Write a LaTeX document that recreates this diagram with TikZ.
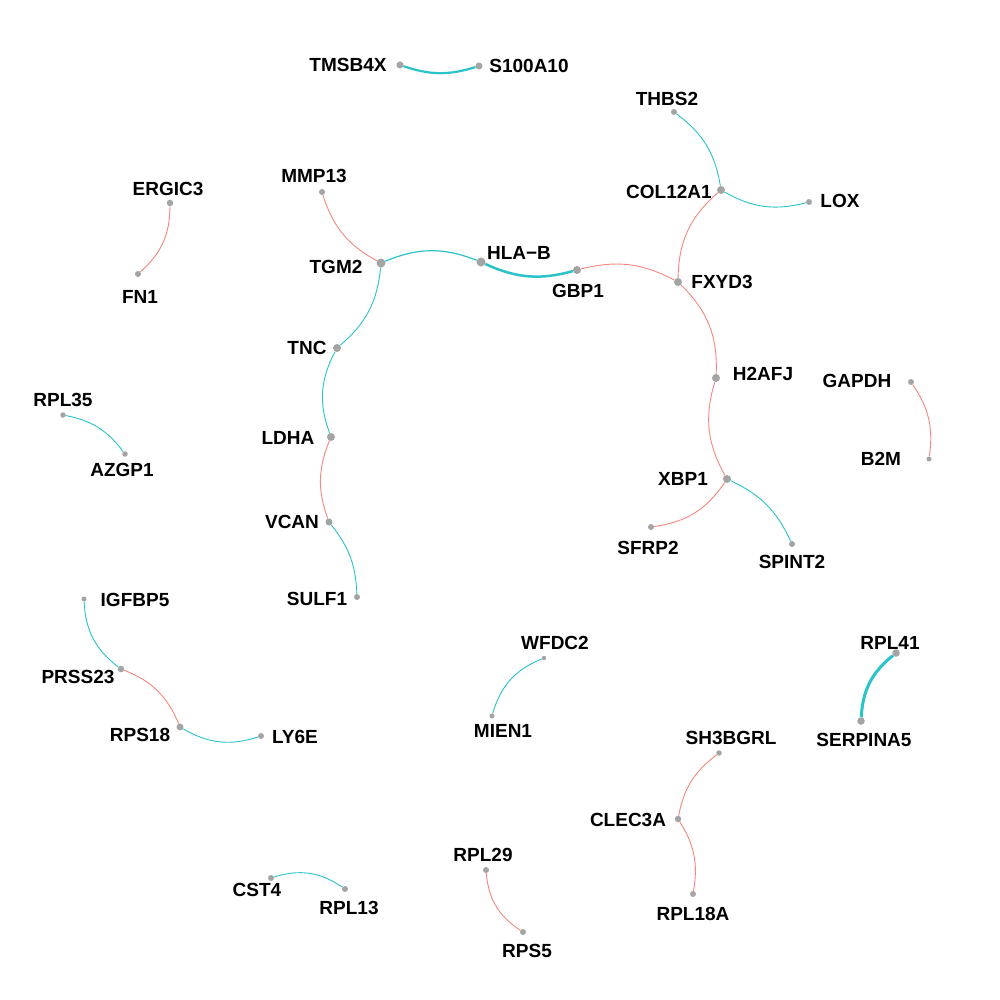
\documentclass[tikz,border=0pt]{standalone}
\usepackage{fontspec}
\setmainfont{Liberation Sans}
\usepackage{tikz}
\usepackage{xcolor}
\definecolor{netcyan}{HTML}{2BC3CA}
\definecolor{netred}{HTML}{F7867E}
\definecolor{netgray}{HTML}{A4A4A4}

\begin{document}
\begin{tikzpicture}[x=1pt, y=-1pt,
  gene/.style={font=\fontsize{19}{19}\selectfont\bfseries, inner sep=0pt, text=black},
  dot/.style={circle, fill=netgray, inner sep=0pt, minimum size=#1},
  dot/.default=6pt,
  posedge/.style={draw=netcyan, line width=0.9pt},
  negedge/.style={draw=netred, line width=0.9pt}
]
\fill[white] (0,0) rectangle (1000,1000);
\useasboundingbox (0,0) rectangle (1000,1000);

% gene dots
\node[dot=7pt] (tmsb4x) at (400,65) {};
\node[dot=7pt] (s100a10) at (479,66) {};
\node[dot] (thbs2) at (674,112) {};
\node[dot=8pt] (col12a1) at (721,190) {};
\node[dot] (lox) at (809,202) {};
\node[dot=8pt] (fxyd3) at (678,282) {};
\node[dot=8pt] (gbp1) at (577,270) {};
\node[dot=9pt] (hlab) at (481,262) {};
\node[dot=9pt] (tgm2) at (381,263) {};
\node[dot] (mmp13) at (322,192) {};
\node[dot=8pt] (tnc) at (337,348) {};
\node[dot=8pt] (ldha) at (331,437) {};
\node[dot=7pt] (vcan) at (329,522) {};
\node[dot] (sulf1) at (357,597) {};
\node[dot=8pt] (h2afj) at (716,378) {};
\node[dot=8pt] (xbp1) at (727,479) {};
\node[dot] (sfrp2) at (651,527) {};
\node[dot] (spint2) at (792,544) {};
\node[dot] (gapdh) at (911,382) {};
\node[dot=5pt] (b2m) at (929,459) {};
\node[dot=6.5pt] (ergic3) at (170,203) {};
\node[dot] (fn1) at (138,274) {};
\node[dot=5.5pt] (rpl35) at (63,415) {};
\node[dot=5.5pt] (azgp1) at (125,454) {};
\node[dot=5pt] (igfbp5) at (84,599) {};
\node[dot=6.5pt] (prss23) at (121,669) {};
\node[dot=7pt] (rps18) at (180,727) {};
\node[dot] (ly6e) at (261,736) {};
\node[dot=4.5pt] (wfdc2) at (544,658) {};
\node[dot=5pt] (mien1) at (492,716) {};
\node[dot=7.5pt] (rpl41) at (896,653) {};
\node[dot=7.5pt] (serpina5) at (861,721) {};
\node[dot=5.5pt] (sh3bgrl) at (719,753) {};
\node[dot=6.5pt] (clec3a) at (678,819) {};
\node[dot] (rpl18a) at (693,894) {};
\node[dot] (cst4) at (271,878) {};
\node[dot] (rpl13) at (345,889) {};
\node[dot] (rpl29) at (486,870) {};
\node[dot] (rps5) at (523,932) {};

% gene names
\node[gene] (tmsb4x-l) at (348,65) {TMSB4X};
\node[gene] (s100a10-l) at (529,66) {S100A10};
\node[gene] (thbs2-l) at (667,99) {THBS2};
\node[gene] (col12a1-l) at (669,192) {COL12A1};
\node[gene] (lox-l) at (840,201) {LOX};
\node[gene] (fxyd3-l) at (722,282) {FXYD3};
\node[gene] (gbp1-l) at (578,291) {GBP1};
\node[gene] (hlab-l) at (519,253) {HLA−B};
\node[gene] (tgm2-l) at (336,267) {TGM2};
\node[gene] (mmp13-l) at (314,176) {MMP13};
\node[gene] (tnc-l) at (307,348) {TNC};
\node[gene] (ldha-l) at (288,438) {LDHA};
\node[gene] (vcan-l) at (292,522) {VCAN};
\node[gene] (sulf1-l) at (317,599) {SULF1};
\node[gene] (h2afj-l) at (763,374) {H2AFJ};
\node[gene] (xbp1-l) at (683,479) {XBP1};
\node[gene] (sfrp2-l) at (648,548) {SFRP2};
\node[gene] (spint2-l) at (792,562) {SPINT2};
\node[gene] (gapdh-l) at (857,381) {GAPDH};
\node[gene] (b2m-l) at (881,459) {B2M};
\node[gene] (ergic3-l) at (168,189) {ERGIC3};
\node[gene] (fn1-l) at (140,297) {FN1};
\node[gene] (rpl35-l) at (63,400) {RPL35};
\node[gene] (azgp1-l) at (122,470) {AZGP1};
\node[gene] (igfbp5-l) at (135,600) {IGFBP5};
\node[gene] (prss23-l) at (78,677) {PRSS23};
\node[gene] (rps18-l) at (140,735) {RPS18};
\node[gene] (ly6e-l) at (295,737) {LY6E};
\node[gene] (wfdc2-l) at (555,643) {WFDC2};
\node[gene] (mien1-l) at (503,731) {MIEN1};
\node[gene] (rpl41-l) at (890,643) {RPL41};
\node[gene] (serpina5-l) at (864,740) {SERPINA5};
\node[gene] (sh3bgrl-l) at (731,738) {SH3BGRL};
\node[gene] (clec3a-l) at (628,820) {CLEC3A};
\node[gene] (rpl18a-l) at (693,914) {RPL18A};
\node[gene] (cst4-l) at (257,890) {CST4};
\node[gene] (rpl13-l) at (349,908) {RPL13};
\node[gene] (rpl29-l) at (483,855) {RPL29};
\node[gene] (rps5-l) at (527,951) {RPS5};

% edges
\draw[posedge, line width=2.2pt] (tmsb4x) to[bend right=18] (s100a10);
\draw[posedge] (thbs2) to[bend left=22] (col12a1);
\draw[posedge] (col12a1) to[bend right=22] (lox);
\draw[negedge] (col12a1) to[bend right=24] (fxyd3);
\draw[negedge] (gbp1) to[bend left=21] (fxyd3);
\draw[posedge, line width=2.5pt] (hlab) to[bend right=20] (gbp1);
\draw[posedge, line width=1.2pt] (tgm2) to[bend left=22] (hlab);
\draw[negedge] (mmp13) to[bend right=22] (tgm2);
\draw[posedge] (tgm2) to[bend left=22] (tnc);
\draw[posedge] (tnc) to[bend right=24] (ldha);
\draw[negedge] (ldha) to[bend right=21] (vcan);
\draw[posedge] (vcan) to[bend left=18] (sulf1);
\draw[negedge] (fxyd3) to[bend left=24] (h2afj);
\draw[negedge] (h2afj) to[bend right=23] (xbp1);
\draw[negedge] (xbp1) to[bend left=24] (sfrp2);
\draw[posedge] (xbp1) to[bend left=20] (spint2);
\draw[negedge] (gapdh) to[bend left=21] (b2m);
\draw[negedge] (ergic3) to[bend left=24] (fn1);
\draw[posedge] (rpl35) to[bend left=21] (azgp1);
\draw[posedge] (igfbp5) to[bend right=25] (prss23);
\draw[negedge] (prss23) to[bend left=23] (rps18);
\draw[posedge] (rps18) to[bend right=24] (ly6e);
\draw[posedge] (wfdc2) to[bend right=26] (mien1);
\draw[posedge, line width=3pt] (rpl41) to[bend right=24] (serpina5);
\draw[negedge] (sh3bgrl) to[bend right=21] (clec3a);
\draw[negedge] (clec3a) to[bend left=21] (rpl18a);
\draw[posedge] (cst4) to[bend left=26] (rpl13);
\draw[negedge] (rpl29) to[bend right=26] (rps5);
\end{tikzpicture}
\end{document}
